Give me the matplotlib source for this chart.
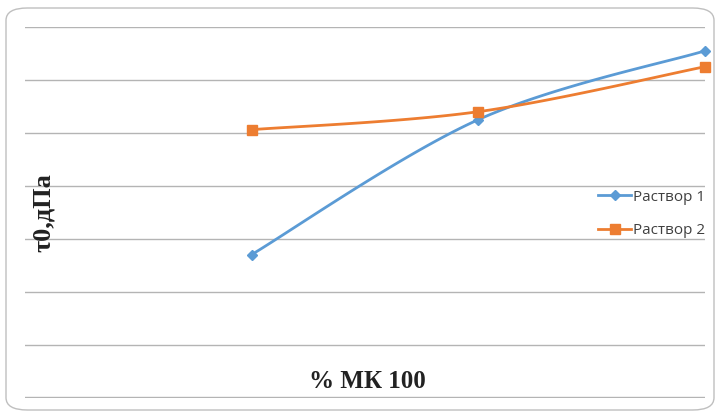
import numpy as np
import matplotlib.pyplot as plt
from matplotlib.patches import FancyBboxPatch

# categories (first one empty), values in dPa units of the grid
categories = ["", "1", "2", "3"]
rastvor1 = [None, 2.70, 5.25, 6.55]
rastvor2 = [None, 5.06, 5.40, 6.25]
series_names = ["Раствор 1", "Раствор 2"]
colors = ["#5B9BD5", "#ED7D31"]


def smooth(xs, ys, n=40):
    # bezier smoothing through the points, the way spreadsheet charts do it
    xs = np.asarray(xs, float)
    ys = np.asarray(ys, float)
    px, py = [], []
    for i in range(len(xs) - 1):
        p0 = np.array([xs[max(i - 1, 0)], ys[max(i - 1, 0)]])
        p1 = np.array([xs[i], ys[i]])
        p2 = np.array([xs[i + 1], ys[i + 1]])
        p3 = np.array([xs[min(i + 2, len(xs) - 1)], ys[min(i + 2, len(xs) - 1)]])
        c1 = p1 + (p2 - p0) / 6
        c2 = p2 - (p3 - p1) / 6
        t = np.linspace(0, 1, n)[:, None]
        b = (1 - t) ** 3 * p1 + 3 * (1 - t) ** 2 * t * c1 + 3 * (1 - t) * t ** 2 * c2 + t ** 3 * p2
        px.extend(b[:, 0])
        py.extend(b[:, 1])
    return px, py


fig = plt.figure(figsize=(7.16, 4.12), dpi=100)
fig.patches.append(FancyBboxPatch((6 / 716, 2 / 412), 708 / 716, 402 / 412,
                                  boxstyle="round,pad=0,rounding_size=0.03",
                                  transform=fig.transFigure, facecolor="white",
                                  edgecolor="#BFBFBF", linewidth=1.0, zorder=-5))

ax = fig.add_axes([25 / 716, 14 / 412, 680 / 716, 371 / 412])
ax.set_facecolor("none")
ax.set_xlim(0, len(categories) - 1)
ax.set_ylim(-0.01, 7)
ax.set_yticks(range(8))
ax.set_xticks([])
ax.tick_params(left=False, labelleft=False)
ax.grid(axis="y", color="#B4B4B4", linewidth=1.0)
for s in ax.spines.values():
    s.set_visible(False)

idx = [i for i, v in enumerate(rastvor1) if v is not None]
for vals, name, col, mk, ms in zip([rastvor1, rastvor2], series_names, colors, ["D", "s"], [5, 7]):
    xs = idx
    ys = [vals[i] for i in idx]
    sx, sy = smooth(xs, ys)
    ax.plot(sx, sy, color=col, linewidth=2.0, solid_capstyle="round", clip_on=False)
    ax.plot(xs, ys, linestyle="none", marker=mk, markersize=ms, color=col, clip_on=False)
    ax.plot([], [], color=col, linewidth=2.0, marker=mk, markersize=ms, label=name)

fig.text(367 / 716, 1 - 381 / 412, "% МК 100", ha="center", va="center",
         fontsize=18, fontweight="bold", family="Liberation Serif", color="#222222")
fig.text(43 / 716, 1 - 213 / 412, "τ0,дПа", ha="center", va="center", rotation=90,
         fontsize=19, fontweight="bold", family="Liberation Serif", color="#222222")

fig.legend(loc="center left", bbox_to_anchor=(584 / 716, 1 - 214 / 412), frameon=False,
           prop={"family": "Open Sans", "size": 11}, handlelength=2.2, handletextpad=0.1,
           labelspacing=1.2, labelcolor="#404040")

fig.savefig("out.png", dpi=100)
